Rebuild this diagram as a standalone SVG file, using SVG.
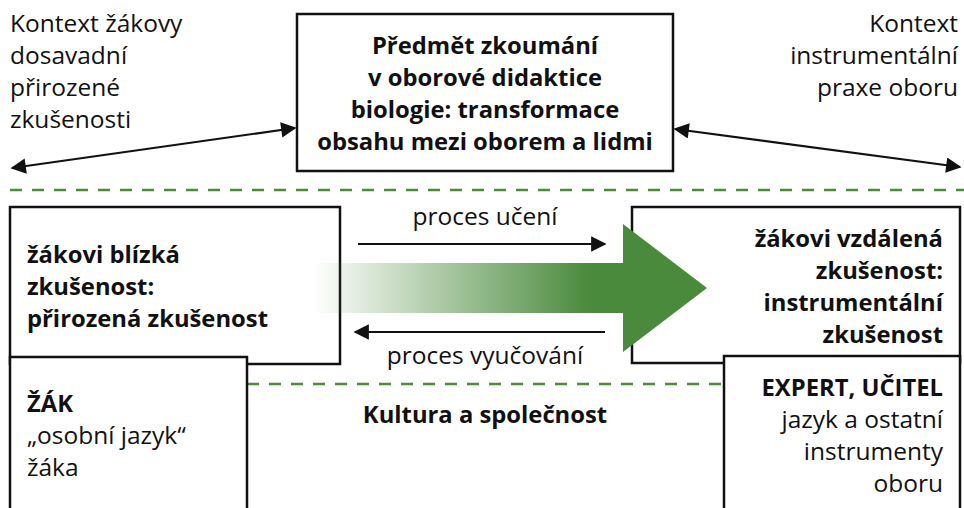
<svg xmlns="http://www.w3.org/2000/svg" width="964" height="508" viewBox="0 0 964 508">
  <style>
    text { font-family: "Open Sans", "Noto Sans", "Liberation Sans", sans-serif; font-size: 24.5px; fill: #111; }
    .b { font-weight: bold; font-size: 23.8px; }
    .box { fill: #fff; stroke: #111; stroke-width: 2.5; }
    .conn { stroke: #111; stroke-width: 2.2; fill: none; }
    .dash { stroke: #4b8b3b; stroke-width: 2.5; stroke-dasharray: 12 10; fill: none; }
    .mid { text-anchor: middle; }
    .end { text-anchor: end; }
  </style>
  <defs>
    <marker id="ah" viewBox="0 0 10 10" refX="9" refY="5" markerWidth="8" markerHeight="7" markerUnits="strokeWidth" orient="auto-start-reverse">
      <path d="M0,0 L10,5 L0,10 z" fill="#111"/>
    </marker>
    <linearGradient id="flow" gradientUnits="userSpaceOnUse" x1="313" y1="0" x2="590" y2="0">
      <stop offset="0" stop-color="#4a8a3c" stop-opacity="0"/>
      <stop offset="1" stop-color="#4a8a3c"/>
    </linearGradient>
  </defs>

  <!-- section separators -->
  <line class="dash" x1="10" y1="190" x2="964" y2="190"/>
  <line class="dash" x1="247" y1="384" x2="724" y2="384"/>

  <!-- context labels -->
  <g id="ctx-left">
    <text x="10" y="32">Kontext žákovy</text>
    <text x="10" y="64">dosavadní</text>
    <text x="10" y="96">přirozené</text>
    <text x="10" y="128">zkušenosti</text>
  </g>
  <g id="ctx-right">
    <text class="end" x="958" y="32">Kontext</text>
    <text class="end" x="958" y="64">instrumentální</text>
    <text class="end" x="958" y="96">praxe oboru</text>
  </g>

  <!-- subject of research -->
  <g id="subject">
    <rect class="box" x="297" y="14" width="376" height="157"/>
    <text class="b mid" x="485" y="54">Předmět zkoumání</text>
    <text class="b mid" x="485" y="86">v oborové didaktice</text>
    <text class="b mid" x="485" y="118">biologie: transformace</text>
    <text class="b mid" x="485" y="150">obsahu mezi oborem a lidmi</text>
  </g>

  <!-- near experience -->
  <g id="near">
    <rect class="box" x="10" y="207" width="330" height="157"/>
    <text class="b" x="27" y="263">žákovi blízká</text>
    <text class="b" x="27" y="295">zkušenost:</text>
    <text class="b" x="27" y="327">přirozená zkušenost</text>
  </g>
  <g id="pupil">
    <rect class="box" x="10" y="357" width="237" height="170"/>
    <text class="b" x="27" y="412">ŽÁK</text>
    <text x="27" y="444">„osobní jazyk“</text>
    <text x="27" y="476">žáka</text>
  </g>

  <!-- distant experience -->
  <g id="far">
    <rect class="box" x="632" y="207" width="328" height="156"/>
    <text class="b end" x="943" y="247">žákovi vzdálená</text>
    <text class="b end" x="943" y="279">zkušenost:</text>
    <text class="b end" x="943" y="311">instrumentální</text>
    <text class="b end" x="943" y="343">zkušenost</text>
  </g>
  <g id="expert">
    <rect class="box" x="724" y="356" width="236" height="170"/>
    <text class="b end" x="943" y="396">EXPERT, UČITEL</text>
    <text class="end" x="943" y="428">jazyk a ostatní</text>
    <text class="end" x="943" y="460">instrumenty</text>
    <text class="end" x="943" y="492">oboru</text>
  </g>

  <g id="culture">
    <text class="b mid" x="485" y="423">Kultura a společnost</text>
  </g>

  <!-- connectors -->
  <g id="connectors">
    <line class="conn" x1="12" y1="168" x2="295" y2="128" marker-start="url(#ah)" marker-end="url(#ah)"/>
    <line class="conn" x1="675" y1="129" x2="960" y2="167" marker-start="url(#ah)" marker-end="url(#ah)"/>
    <line class="conn" x1="358" y1="244" x2="605" y2="244" marker-end="url(#ah)"/>
    <line class="conn" x1="605" y1="332" x2="355" y2="332" marker-end="url(#ah)"/>
    <path d="M313,263 L623,263 L623,224 L707,288 L623,352 L623,313 L313,313 z" fill="url(#flow)"/>
    <text class="mid" x="485" y="225">proces učení</text>
    <text class="mid" x="485" y="364">proces vyučování</text>
  </g>
</svg>
